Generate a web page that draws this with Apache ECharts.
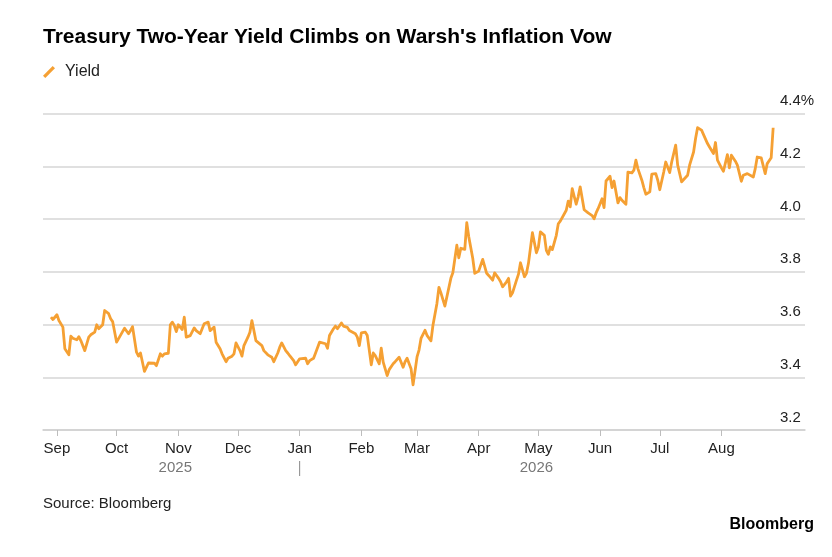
<!doctype html>
<html>

<head>
    <meta charset="utf-8">
    <title>Treasury Two-Year Yield</title>
    <script src="https://cdn.jsdelivr.net/npm/echarts@6/dist/echarts.min.js"></script>
</head>

<body style="margin:0;padding:0;background:#fff;">
    <div id="main" style="width:832px;height:557px;"></div>
    <script>
        // 2年期美债收益率
        var dates = [
            '2025-08-29', '2025-08-30', '2025-09-01', '2025-09-02', '2025-09-04', '2025-09-05', '2025-09-07', '2025-09-08', '2025-09-09', '2025-09-11',
            '2025-09-12', '2025-09-13', '2025-09-15', '2025-09-17', '2025-09-18', '2025-09-20', '2025-09-21', '2025-09-22', '2025-09-24', '2025-09-25',
            '2025-09-27', '2025-09-28', '2025-09-29', '2025-10-01', '2025-10-02', '2025-10-04', '2025-10-05', '2025-10-07', '2025-10-08', '2025-10-09',
            '2025-10-11', '2025-10-12', '2025-10-13', '2025-10-15', '2025-10-17', '2025-10-18', '2025-10-20', '2025-10-21', '2025-10-23', '2025-10-24',
            '2025-10-25', '2025-10-27', '2025-10-28',
            '2025-10-29', '2025-10-30', '2025-10-31', '2025-11-01', '2025-11-03', '2025-11-04', '2025-11-05', '2025-11-07', '2025-11-09', '2025-11-10',
            '2025-11-12', '2025-11-13', '2025-11-14', '2025-11-16', '2025-11-17', '2025-11-19', '2025-11-20', '2025-11-22', '2025-11-23', '2025-11-25',
            '2025-11-26', '2025-11-28', '2025-11-29', '2025-11-30', '2025-12-02', '2025-12-03', '2025-12-04', '2025-12-06', '2025-12-07', '2025-12-08',
            '2025-12-10', '2025-12-11', '2025-12-13', '2025-12-14', '2025-12-16', '2025-12-18', '2025-12-19', '2025-12-21', '2025-12-22', '2025-12-23',
            '2025-12-25', '2025-12-26', '2025-12-27',
            '2025-12-29', '2025-12-30', '2026-01-01', '2026-01-02', '2026-01-04', '2026-01-05', '2026-01-06', '2026-01-08', '2026-01-09', '2026-01-11',
            '2026-01-12', '2026-01-14', '2026-01-15', '2026-01-16', '2026-01-18', '2026-01-19', '2026-01-20', '2026-01-22', '2026-01-23', '2026-01-25',
            '2026-01-26', '2026-01-27', '2026-01-29', '2026-01-30', '2026-01-31', '2026-02-01', '2026-02-03', '2026-02-04', '2026-02-06', '2026-02-07',
            '2026-02-08', '2026-02-10', '2026-02-11', '2026-02-12', '2026-02-14', '2026-02-15', '2026-02-17', '2026-02-18', '2026-02-19', '2026-02-20',
            '2026-02-22', '2026-02-23', '2026-02-24', '2026-02-26', '2026-02-27',
            '2026-03-01', '2026-03-02', '2026-03-03', '2026-03-05', '2026-03-06', '2026-03-08', '2026-03-09', '2026-03-11', '2026-03-12', '2026-03-13',
            '2026-03-15', '2026-03-16', '2026-03-18', '2026-03-19', '2026-03-21', '2026-03-22', '2026-03-23', '2026-03-25', '2026-03-26', '2026-03-27',
            '2026-03-29', '2026-03-30', '2026-04-01', '2026-04-02', '2026-04-03', '2026-04-05', '2026-04-06', '2026-04-08', '2026-04-09', '2026-04-11',
            '2026-04-12', '2026-04-13', '2026-04-15', '2026-04-16', '2026-04-17', '2026-04-18', '2026-04-20', '2026-04-21', '2026-04-22', '2026-04-24',
            '2026-04-25', '2026-04-26', '2026-04-28', '2026-04-30',
            '2026-05-01', '2026-05-02', '2026-05-04', '2026-05-05', '2026-05-06', '2026-05-07', '2026-05-08', '2026-05-10', '2026-05-11', '2026-05-12',
            '2026-05-13', '2026-05-15', '2026-05-16', '2026-05-17', '2026-05-18', '2026-05-20', '2026-05-21', '2026-05-22', '2026-05-24', '2026-05-25',
            '2026-05-26', '2026-05-28', '2026-05-29', '2026-05-30', '2026-05-31', '2026-06-02', '2026-06-03', '2026-06-04', '2026-06-06', '2026-06-07',
            '2026-06-08', '2026-06-10', '2026-06-11', '2026-06-12', '2026-06-14', '2026-06-15', '2026-06-17', '2026-06-18', '2026-06-19', '2026-06-20',
            '2026-06-22', '2026-06-23', '2026-06-24', '2026-06-26', '2026-06-27', '2026-06-29', '2026-06-30', '2026-07-01',
            '2026-07-03', '2026-07-04', '2026-07-06', '2026-07-07', '2026-07-09', '2026-07-10', '2026-07-12', '2026-07-13', '2026-07-15', '2026-07-16',
            '2026-07-18', '2026-07-19', '2026-07-20', '2026-07-22', '2026-07-23', '2026-07-25', '2026-07-26', '2026-07-28', '2026-07-29', '2026-07-30',
            '2026-08-01', '2026-08-02', '2026-08-04', '2026-08-05', '2026-08-06', '2026-08-08', '2026-08-09', '2026-08-11', '2026-08-12', '2026-08-14',
            '2026-08-15', '2026-08-17', '2026-08-18', '2026-08-19', '2026-08-21', '2026-08-23', '2026-08-24', '2026-08-26', '2026-08-27'
        ];
        var yields = [
            3.628, 3.619, 3.637, 3.615, 3.590, 3.508, 3.485, 3.556, 3.548, 3.542,
            3.554, 3.539, 3.501, 3.552, 3.561, 3.571, 3.599, 3.584, 3.599, 3.653,
            3.641, 3.622, 3.611, 3.533, 3.535, 3.573, 3.586, 3.565, 3.577, 3.592,
            3.495, 3.480, 3.492, 3.422, 3.454, 3.451, 3.453, 3.444, 3.489, 3.480,
            3.489, 3.491, 3.599,
            3.609, 3.596, 3.573, 3.599, 3.581, 3.628, 3.552, 3.558, 3.587, 3.577,
            3.565, 3.584, 3.603, 3.609, 3.577, 3.590, 3.533, 3.508, 3.489, 3.459,
            3.472, 3.480, 3.489, 3.530, 3.501, 3.480, 3.520, 3.552, 3.571, 3.615,
            3.539, 3.539, 3.520, 3.501, 3.485, 3.476, 3.459, 3.492, 3.514, 3.530,
            3.501, 3.492, 3.482,
            3.463, 3.447, 3.470, 3.475, 3.472, 3.451, 3.463, 3.472, 3.492, 3.533,
            3.535, 3.527, 3.510, 3.558, 3.584, 3.594, 3.584, 3.606, 3.594, 3.589,
            3.577, 3.571, 3.565, 3.552, 3.520, 3.568, 3.571, 3.558, 3.447, 3.492,
            3.482, 3.451, 3.510, 3.457, 3.406, 3.429, 3.451, 3.459, 3.457, 3.476,
            3.438, 3.459, 3.472, 3.432, 3.371,
            3.477, 3.503, 3.547, 3.578, 3.559, 3.538, 3.597, 3.680, 3.741, 3.720,
            3.670, 3.670, 3.775, 3.796, 3.901, 3.853, 3.889, 3.885, 3.986, 3.933,
            3.851, 3.794, 3.803, 3.796, 3.847, 3.794, 3.786, 3.768, 3.796, 3.775,
            3.762, 3.743, 3.762, 3.775, 3.708, 3.720, 3.768, 3.791, 3.834, 3.781,
            3.794, 3.832, 3.948, 3.872,
            3.894, 3.951, 3.938, 3.881, 3.866, 3.894, 3.884, 3.938, 3.982, 3.992,
            3.985, 4.033, 4.068, 4.046, 4.115, 4.056, 4.084, 4.122, 4.035, 4.033,
            4.023, 4.013, 4.001, 4.023, 4.039, 4.077, 4.043, 4.144, 4.162, 4.119,
            4.144, 4.061, 4.081, 4.071, 4.056, 4.178, 4.175, 4.185, 4.223, 4.191,
            4.147, 4.119, 4.094, 4.103, 4.170, 4.172, 4.147, 4.111,
            4.178, 4.216, 4.176, 4.216, 4.280, 4.204, 4.141, 4.134, 4.166, 4.204,
            4.254, 4.305, 4.346, 4.337, 4.320, 4.286, 4.273, 4.248, 4.290, 4.223,
            4.194, 4.181, 4.244, 4.194, 4.242, 4.219, 4.204, 4.143, 4.166, 4.172,
            4.168, 4.159, 4.191, 4.235, 4.232, 4.172, 4.210, 4.232, 4.346
        ];
        // 月份刻度
        var monthTicks = ['2025-09-01', '2025-10-01', '2025-11-01', '2025-12-01', '2026-01-01', '2026-02-01',
            '2026-03-01', '2026-04-01', '2026-05-01', '2026-06-01', '2026-07-01', '2026-08-01'];
        var monthLabels = ['Sep', 'Oct', 'Nov', 'Dec', 'Jan', 'Feb', 'Mar', 'Apr', 'May', 'Jun', 'Jul', 'Aug'];
        var yearLabels = ['2025', '2026'];
        var yearStart = '2026-01-01';

        var font = 'Liberation Sans, Arial, sans-serif';
        var lineColor = '#f5a033';

        // 按本地时间解析日期
        function toTime(s) {
            var p = s.split('-');
            return new Date(+p[0], p[1] - 1, +p[2]).getTime();
        }
        var tickTimes = monthTicks.map(toTime);
        var seriesData = dates.map(function (d, i) {
            return [toTime(d), yields[i]];
        });

        var chart = echarts.init(document.getElementById('main'));
        chart.setOption({
            animation: false,
            backgroundColor: '#fff',
            textStyle: { fontFamily: font },
            title: [{
                text: "Treasury Two-Year Yield Climbs on Warsh's Inflation Vow",
                left: 43, top: 27, padding: 0,
                textStyle: { fontFamily: font, fontSize: 21, fontWeight: 'bold', color: '#000' }
            }, {
                text: 'Source: Bloomberg',
                left: 43, top: 496, padding: 0,
                textStyle: { fontFamily: font, fontSize: 15, fontWeight: 'normal', color: '#222' }
            }, {
                text: 'Bloomberg',
                right: 18, top: 517, padding: 0,
                textStyle: { fontFamily: font, fontSize: 16, fontWeight: 'bold', color: '#000' }
            }],
            legend: {
                left: 43, top: 64, padding: 0,
                icon: 'path://M0,10.5 L10.5,0 L13,2.5 L2.5,13 Z',
                itemWidth: 12, itemHeight: 12,
                textStyle: { fontFamily: font, fontSize: 16, color: '#222', padding: [0, 0, 0, 5] },
                data: ['Yield']
            },
            grid: { left: 43, right: 27, top: 113.5, bottom: 127, containLabel: false },
            xAxis: {
                // 用数值轴承载时间戳，刻度放在每月1日
                type: 'value',
                min: toTime('2025-08-25'),
                max: toTime('2026-09-12'),
                axisLine: { show: true, lineStyle: { color: '#cfcfcf', width: 1.5 } },
                axisTick: { show: true, customValues: tickTimes, length: 6, lineStyle: { color: '#bdbdbd', width: 1 } },
                axisLabel: {
                    customValues: tickTimes,
                    margin: 11,
                    fontSize: 15,
                    color: '#222',
                    fontFamily: font,
                    formatter: function (v) {
                        var i = tickTimes.indexOf(v);
                        return i >= 0 ? monthLabels[i] : '';
                    }
                },
                splitLine: { show: false }
            },
            yAxis: {
                type: 'value',
                position: 'right',
                min: 3.2, max: 4.4, interval: 0.2,
                axisLine: { show: false },
                axisTick: { show: false },
                splitLine: { lineStyle: { color: '#d6d6d6', width: 1.5 } },
                axisLabel: {
                    inside: true,
                    margin: 25,
                    align: 'left',
                    verticalAlign: 'bottom',
                    padding: [0, 0, 5, 0],
                    fontSize: 15,
                    color: '#222',
                    fontFamily: font,
                    formatter: function (v) {
                        return v > 4.39 ? v.toFixed(1) + '%' : v.toFixed(1);
                    }
                }
            },
            series: [{
                name: 'Yield',
                type: 'line',
                data: seriesData,
                showSymbol: false,
                symbol: 'none',
                color: lineColor,
                lineStyle: { color: lineColor, width: 2.8, join: 'round' }
            }]
        });

        // 年份标签：按数据在各年份的跨度居中
        var xFirst = chart.convertToPixel({ xAxisIndex: 0 }, toTime(dates[0]));
        var xSplit = chart.convertToPixel({ xAxisIndex: 0 }, toTime(yearStart));
        var xLast = chart.convertToPixel({ xAxisIndex: 0 }, toTime(dates[dates.length - 1]));
        chart.setOption({
            graphic: [{
                type: 'text',
                x: (xFirst + xSplit) / 2, y: 468,
                style: { text: yearLabels[0], fontFamily: font, fontSize: 15, fill: '#777', align: 'center', verticalAlign: 'middle' }
            }, {
                type: 'text',
                x: (xSplit + xLast) / 2, y: 468,
                style: { text: yearLabels[1], fontFamily: font, fontSize: 15, fill: '#777', align: 'center', verticalAlign: 'middle' }
            }, {
                type: 'line',
                shape: { x1: xSplit, y1: 461, x2: xSplit, y2: 476 },
                style: { stroke: '#888', lineWidth: 1 }
            }]
        });
    </script>
</body>

</html>
